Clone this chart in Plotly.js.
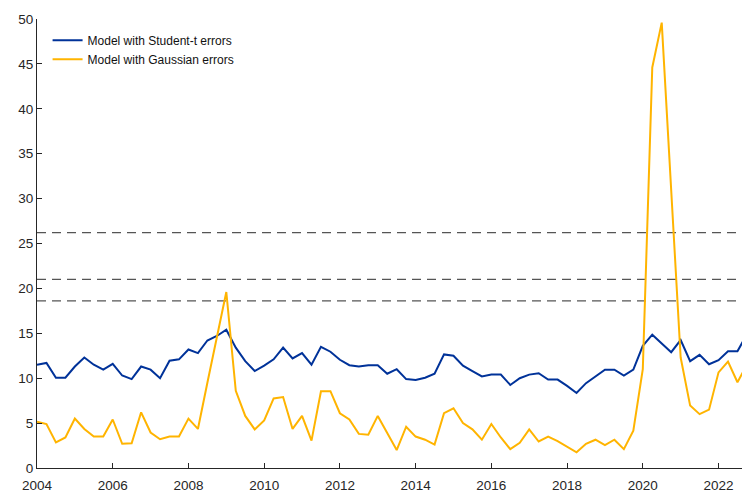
<!DOCTYPE html>
<html>
<head>
<meta charset="utf-8">
<script src="https://cdn.plot.ly/plotly-3.0.1.min.js"></script>
<style>
  html, body { margin:0; padding:0; background:#fff; }
  #chart { width:742px; height:493px; }
</style>
</head>
<body>
<div id="chart"></div>
<script>
// quarterly observations, 2004Q1 .. 2022Q4
const startYear = 2004;
const studentT = [
  11.5, 11.7, 10.05, 10.05, 11.3, 12.3, 11.5, 10.95,
  11.6, 10.3, 9.9, 11.3, 10.95, 10.0, 11.95, 12.1,
  13.2, 12.8, 14.2, 14.7, 15.4, 13.4, 11.9, 10.8,
  11.4, 12.1, 13.4, 12.2, 12.8, 11.5, 13.5, 12.95,
  12.05, 11.45, 11.3, 11.45, 11.45, 10.5, 11.0, 9.9,
  9.8, 10.05, 10.5, 12.65, 12.5, 11.4, 10.8, 10.2,
  10.4, 10.4, 9.25, 10.0, 10.4, 10.55, 9.85, 9.85,
  9.15, 8.35, 9.45, 10.2, 10.95, 10.95, 10.3, 10.95,
  13.6, 14.85, 13.9, 12.9, 14.25, 11.9, 12.6, 11.55,
  12.0, 13.0, 13.0, 14.9
];
const gaussian = [
  5.15, 4.9, 2.85, 3.4, 5.5, 4.35, 3.5, 3.5,
  5.4, 2.7, 2.75, 6.2, 3.95, 3.2, 3.5, 3.5,
  5.5, 4.35, 9.5, 14.5, 19.6, 8.6, 5.8, 4.3,
  5.3, 7.75, 7.9, 4.35, 5.8, 3.05, 8.55, 8.55,
  6.1, 5.4, 3.8, 3.7, 5.8, 3.9, 2.0, 4.6,
  3.5, 3.15, 2.6, 6.1, 6.65, 5.0, 4.3, 3.15,
  4.9, 3.4, 2.1, 2.8, 4.3, 2.95, 3.5, 3.0,
  2.4, 1.75, 2.7, 3.15, 2.55, 3.15, 2.1, 4.15,
  11.0, 44.6, 49.6, 31.0, 12.3, 6.95, 6.0, 6.5,
  10.65, 11.85, 9.55, 11.5
];
const thresholds = [26.2, 21.0, 18.6];
const seriesNames = ['Model with Student-t errors', 'Model with Gaussian errors'];
const seriesColors = ['#003299', '#FFB400'];
const xTicks = [2004, 2006, 2008, 2010, 2012, 2014, 2016, 2018, 2020, 2022];

const dates = studentT.map((_, i) => startYear + i / 4);
const ink = '#262626';

const traces = [studentT, gaussian].map((ys, k) => ({
  type: 'scatter', mode: 'lines', name: seriesNames[k],
  x: dates, y: ys, line: {color: seriesColors[k], width: 2}, cliponaxis: true,
}));

const shapes = thresholds.map(v => ({
  type: 'line', xref: 'paper', x0: 0, x1: 1, yref: 'y', y0: v, y1: v,
  line: {color: '#555', width: 1.2, dash: '9px,6px'}, layer: 'below',
}));

Plotly.newPlot('chart', traces, {
  width: 742, height: 493,
  margin: {l: 37, r: 0, t: 19, b: 25},
  paper_bgcolor: '#fff', plot_bgcolor: '#fff',
  font: {family: 'Liberation Sans, Arial, sans-serif', size: 13, color: ink},
  showlegend: true,
  legend: {x: 0.015, y: 0.985, xanchor: 'left', yanchor: 'top', bgcolor: 'rgba(0,0,0,0)',
           font: {size: 12, color: '#111'}, tracegroupgap: 0},
  xaxis: {range: [2004, 2022.62], tickvals: xTicks, ticktext: xTicks.map(String),
          showgrid: false, zeroline: false, showline: true, linecolor: ink, linewidth: 1,
          ticks: 'inside', ticklen: 5, tickcolor: ink, ticklabelstandoff: 5,
          tickfont: {size: 13.5, color: ink}},
  yaxis: {range: [0, 50], dtick: 5, tick0: 0,
          showgrid: false, zeroline: false, showline: true, linecolor: ink, linewidth: 1,
          ticks: 'inside', ticklen: 5, tickcolor: ink, tickfont: {size: 13.5, color: ink}},
  shapes: shapes,
}, {displayModeBar: false, staticPlot: true});
</script>
</body>
</html>
